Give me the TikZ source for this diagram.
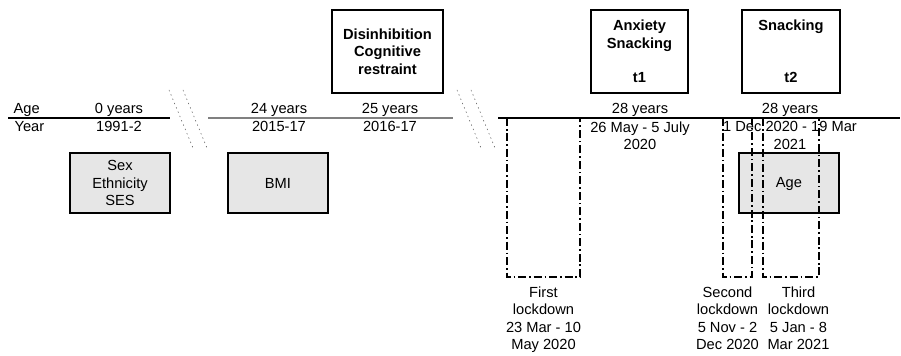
\documentclass[tikz,border=0pt]{standalone}
\usepackage{fontspec}
\setmainfont{Liberation Sans}
\usetikzlibrary{arrows.meta,positioning}
\definecolor{BoxGrey}{HTML}{E6E6E6}
\definecolor{BreakGrey}{HTML}{555555}
\newcommand{\diagfont}{\fontsize{11}{13.1}\selectfont}

\begin{document}
\begin{tikzpicture}[x=0.75pt,y=-0.75pt,
    every node/.style={font=\diagfont},
    measure/.style={draw,line width=1.5pt,fill=white,align=center,inner sep=0pt,
      minimum height=62pt,font=\diagfont\bfseries},
    covar/.style={draw,line width=1.5pt,fill=BoxGrey,align=center,inner sep=0pt,
      minimum width=75pt,minimum height=45pt},
    agerow/.style={anchor=south,inner sep=1pt},
    yearrow/.style={anchor=north,inner sep=2.5pt,align=center},
    lockrow/.style={anchor=north,align=center,inner sep=0pt},
    lockdown/.style={line width=1.5pt,dash pattern=on 6pt off 2.2pt on 1.2pt off 2.2pt},
    breakmark/.style={BreakGrey,line width=0.4pt,dash pattern=on 1pt off 2.5pt}]
    \useasboundingbox (0,0) rectangle (901,356);
    % timeline, broken twice
    \coordinate (tl1a) at (8,118);   \coordinate (tl1b) at (170,118);
    \coordinate (tl2a) at (208,118); \coordinate (tl2b) at (453,118);
    \coordinate (tl3a) at (498,118); \coordinate (tl3b) at (900,118);
    \draw[line width=1.2pt] (tl1a) -- (tl1b);
    \draw[line width=0.8pt,gray] (tl2a) -- (tl2b);
    \draw[line width=1pt] (tl3a) -- (tl3b);
    \foreach \x in {169,183,457,471} {
      \draw[breakmark] (\x,90) -- (\x+24,148);
    }
    \node[anchor=south west,inner sep=1pt] (agelab) at (12,118) {Age};
    \node[anchor=north west,inner sep=2.5pt] (yearlab) at (11,118) {Year};
    \node[agerow] (age0) at (119,118) {0 years};
    \node[yearrow] (year0) at (119,118) {1991-2};
    \node[agerow] (age24) at (279,118) {24 years};
    \node[yearrow] (year24) at (279,118) {2015-17};
    \node[agerow] (age25) at (390,118) {25 years};
    \node[yearrow] (year25) at (390,118) {2016-17};
    \node[agerow] (age28a) at (640,118) {28 years};
    \node[yearrow] (year28a) at (640,118) {26 May - 5 July\\2020};
    \node[agerow] (age28b) at (790,118) {28 years};
    \node[yearrow] (year28b) at (790,118) {1 Dec 2020 - 19 Mar\\2021};
    % measures
    \node[measure,minimum width=83pt] (disbox) at (387.5,51.5) {Disinhibition\\Cognitive\\restraint};
    \node[measure,minimum width=73pt] (t1box) at (639.5,51.5) {Anxiety\\Snacking\\[13.1pt]t1};
    \node[measure,minimum width=73.5pt] (t2box) at (791,51.5) {Snacking\\[26.2pt]t2};
    % covariates
    \node[covar] (sesbox) at (120,183) {Sex\\Ethnicity\\SES};
    \node[covar] (bmibox) at (278,183) {BMI};
    \node[covar] (agebox) at (789,183.5) {Age};
    % lockdowns
    \draw[lockdown] (507,118) rectangle (580,277);
    \draw[lockdown] (723,118) rectangle (752,277);
    \draw[lockdown] (763,118) rectangle (819,277);
    \coordinate (ld1) at (543.5,277);
    \coordinate (ld2) at (727.5,277);
    \coordinate (ld3) at (798.5,277);
    \node[lockrow,below=7pt of ld1] (ld1lab) {First\\lockdown\\23 Mar - 10\\May 2020};
    \node[lockrow,below=7pt of ld2] (ld2lab) {Second\\lockdown\\5 Nov - 2\\Dec 2020};
    \node[lockrow,below=7pt of ld3] (ld3lab) {Third\\lockdown\\5 Jan - 8\\Mar 2021};
\end{tikzpicture}
\end{document}
